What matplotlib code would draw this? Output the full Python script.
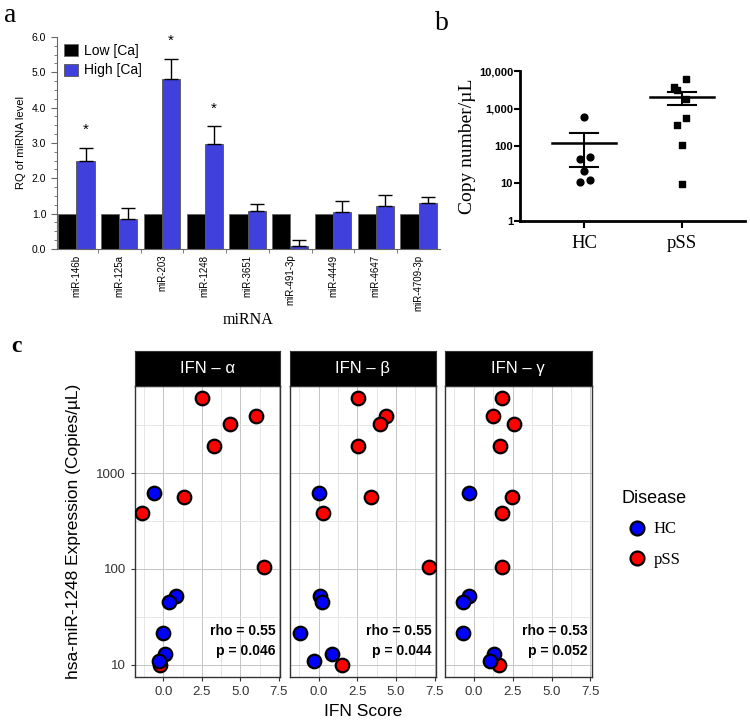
import numpy as np
import matplotlib
matplotlib.use("Agg")
from matplotlib import pyplot as plt
from matplotlib.ticker import FixedLocator, NullLocator, FuncFormatter
from matplotlib.lines import Line2D

SANS = "Liberation Sans"
SERIF = "Liberation Serif"
plt.rcParams['font.family'] = [SANS, 'DejaVu Sans']

# ---- panel a data ----
mirnas = ["miR-146b", "miR-125a", "miR-203", "miR-1248", "miR-3651",
          "miR-491-3p", "miR-4449", "miR-4647", "miR-4709-3p"]
low_ca = [1.0, 1.0, 1.0, 1.0, 1.0, 1.0, 1.0, 1.0, 1.0]
high_ca = [2.50, 0.85, 4.82, 2.98, 1.07, 0.09, 1.05, 1.21, 1.29]
high_ca_err = [0.37, 0.32, 0.56, 0.49, 0.20, 0.15, 0.32, 0.33, 0.19]
significant = [True, False, True, True, False, False, False, False, False]

# ---- panel b data ----
hc_copies = [600, 44, 50, 21, 10.7, 12.2]
hc_jitter = [0.0, -0.04, 0.06, 0.0, -0.04, 0.06]
pss_copies = [6000, 3800, 3100, 1830, 550, 370, 105, 9.7]
pss_jitter = [0.045, -0.08, -0.05, 0.045, 0.045, -0.05, 0.0, 0.0]

# ---- panel c data ----
hc_expr = [620, 52, 45, 21.5, 12.8, 11]
pss_expr = [6100, 3950, 3250, 1930, 570, 385, 105, 10]
ifn_names = ["IFN – α", "IFN – β", "IFN – γ"]
ifn_hc = [[-0.60, 0.82, 0.37, 0.00, 0.11, -0.32],
          [0.02, 0.07, 0.24, -1.19, 0.87, -0.30],
          [-0.33, -0.33, -0.70, -0.70, 1.28, 1.02]]
ifn_pss = [[2.52, 6.04, 4.35, 3.30, 1.36, -1.40, 6.53, -0.21],
           [2.58, 4.33, 4.00, 2.55, 3.42, 0.28, 7.16, 1.54],
           [1.84, 1.24, 2.57, 1.67, 2.46, 1.84, 1.84, 1.60]]
rho_text = ["rho = 0.55\np = 0.046", "rho = 0.55\np = 0.044", "rho = 0.53\np = 0.052"]

fig = plt.figure(figsize=(7.5, 7.21), dpi=100)

# ================= panel a =================
blue = "#4040dc"
ax = fig.add_axes([0.0756, 0.6547, 0.511, 0.294])
x = np.arange(len(mirnas))
w = 0.425
ax.bar(x - w / 2, low_ca, w, color="black", edgecolor="#666666", linewidth=0.6, label="Low [Ca]")
ax.bar(x + w / 2, high_ca, w, color=blue, edgecolor="#555555", linewidth=0.6, label="High [Ca]")
ax.errorbar(x + w / 2, high_ca, yerr=[np.zeros(len(high_ca)), high_ca_err], fmt="none",
            ecolor="black", elinewidth=1.0, capsize=5, capthick=1.0)
for i in range(len(mirnas)):
    if significant[i]:
        ax.text(x[i] + w / 2, high_ca[i] + high_ca_err[i] + 0.5, "*", ha="center", va="center", fontsize=11)
ax.set_xlim(-0.462, 8.50)
ax.set_ylim(0, 6.0)
ax.set_xticks(x)
ax.set_xticklabels(mirnas, rotation=90, fontsize=7)
ax.xaxis.set_minor_locator(FixedLocator(x[:-1] + 0.5))
ax.tick_params(axis="x", which="major", length=0, pad=4)
ax.tick_params(axis="x", which="minor", length=3, color="#666666")
ax.set_yticks(np.arange(0, 6.1, 1.0))
ax.yaxis.set_major_formatter(FuncFormatter(lambda v, p: "%.1f" % v))
ax.yaxis.set_minor_locator(FixedLocator(np.arange(0, 6.01, 0.25)))
ax.tick_params(axis="y", which="major", labelsize=7.5, length=4, color="#666666")
ax.tick_params(axis="y", which="minor", length=2, color="#666666")
for s in ["top", "right"]:
    ax.spines[s].set_visible(False)
for s in ["left", "bottom"]:
    ax.spines[s].set_color("#666666")
ax.set_ylabel("RQ of miRNA level", fontsize=8)
ax.set_xlabel("miRNA", fontsize=11.5, family=SERIF, labelpad=1)
ax.legend(loc="upper left", bbox_to_anchor=(0.0, 1.0), frameon=False, fontsize=10,
          handlelength=1.0, handleheight=1.0, handletextpad=0.5, labelspacing=0.4,
          borderaxespad=0.2, borderpad=0.3)
fig.text(0.005, 0.978, "a", family=SERIF, fontsize=20, va="center")

# ================= panel b =================
bx = fig.add_axes([0.6933, 0.6935, 0.30, 0.208])
bx.set_yscale("log")
bx.scatter(np.zeros(len(hc_copies)) + hc_jitter, hc_copies, marker="o", s=24, color="black", zorder=3)
bx.scatter(np.ones(len(pss_copies)) + pss_jitter, pss_copies, marker="s", s=22, color="black", zorder=3)
for pos, vals in [(0, hc_copies), (1, pss_copies)]:
    v = np.array(vals)
    m = v.mean()
    sem = v.std(ddof=1) / np.sqrt(len(v))
    bx.plot([pos - 0.33, pos + 0.33], [m, m], color="black", lw=1.8)
    bx.plot([pos - 0.14, pos + 0.14], [m + sem, m + sem], color="black", lw=1.5)
    bx.plot([pos - 0.14, pos + 0.14], [m - sem, m - sem], color="black", lw=1.5)
    bx.plot([pos, pos], [m - sem, m + sem], color="black", lw=1.5)
bx.set_xlim(-0.653, 1.643)
bx.set_ylim(1, 10000)
bx.set_yticks([1, 10, 100, 1000, 10000])
bx.yaxis.set_major_formatter(FuncFormatter(lambda v, p: "{:,}".format(int(round(v)))))
bx.yaxis.set_minor_locator(NullLocator())
for lab in bx.get_yticklabels():
    lab.set_fontweight("bold")
bx.tick_params(axis="y", labelsize=8, length=4, width=1.5, pad=1)
bx.set_xticks([0, 1])
bx.set_xticklabels(["HC", "pSS"], family=SERIF, fontsize=13.5)
bx.tick_params(axis="x", length=5, width=1.5, pad=5)
for s in ["top", "right"]:
    bx.spines[s].set_visible(False)
for s in ["left", "bottom"]:
    bx.spines[s].set_linewidth(2)
bx.set_ylabel("Copy number/µL", family=SERIF, fontsize=14, labelpad=2)
fig.text(0.58, 0.967, "b", family=SERIF, fontsize=20, va="center")

# ================= panel c =================
lefts = [0.18, 0.3867, 0.5933]
widths = [0.1933, 0.1943, 0.1956]
cb, ch = 0.0606, 0.404
strip_h = 0.0485
axes_c = []
for k in range(3):
    cx = fig.add_axes([lefts[k], cb, widths[k], ch])
    axes_c.append(cx)
    cx.set_yscale("log")
    cx.set_xlim(-1.85, 7.58)
    cx.set_ylim(7.38, 8170)
    cx.set_xticks([0.0, 2.5, 5.0, 7.5])
    cx.xaxis.set_major_formatter(FuncFormatter(lambda v, p: "%.1f" % v))
    cx.xaxis.set_minor_locator(FixedLocator([-1.25, 1.25, 3.75, 6.25]))
    cx.set_yticks([10, 100, 1000])
    cx.yaxis.set_minor_locator(FixedLocator([10 ** 1.5, 10 ** 2.5, 10 ** 3.5]))
    cx.yaxis.set_major_formatter(FuncFormatter(lambda v, p: "%d" % v))
    cx.grid(which="major", color="#c4c4c4", lw=0.7)
    cx.grid(which="minor", color="#e2e2e2", lw=0.6)
    cx.set_axisbelow(True)
    cx.tick_params(which="minor", length=0)
    cx.tick_params(which="major", length=3, color="#333333", labelsize=9.5, labelcolor="#333333")
    if k > 0:
        cx.tick_params(axis="y", labelleft=False, length=0)
    for s in cx.spines.values():
        s.set_color("#333333")
        s.set_linewidth(1.0)
    cx.scatter(ifn_pss[k], pss_expr, s=95, color="#ff0000", edgecolor="black", linewidth=1.6, zorder=3)
    cx.scatter(ifn_hc[k], hc_expr, s=95, color="#0000ff", edgecolor="black", linewidth=1.6, zorder=4)
    cx.text(0.97, 0.125, rho_text[k], transform=cx.transAxes, ha="right", va="center",
            fontsize=10, fontweight="bold", linespacing=1.55)
    sx = fig.add_axes([lefts[k], cb + ch, widths[k], strip_h])
    sx.set_facecolor("black")
    sx.set_xticks([])
    sx.set_yticks([])
    for s in sx.spines.values():
        s.set_color("#333333")
    sx.text(0.5, 0.5, ifn_names[k], color="white", ha="center", va="center", fontsize=12,
            transform=sx.transAxes)

axes_c[0].set_ylabel("hsa-miR-1248 Expression (Copies/µL)", fontsize=12.5, labelpad=11)
axes_c[1].set_xlabel("IFN Score", fontsize=12.5, labelpad=4)

handles = [Line2D([], [], marker="o", ls="", markersize=10, markerfacecolor="#0000ff",
                  markeredgecolor="black", markeredgewidth=1.6, label="HC"),
           Line2D([], [], marker="o", ls="", markersize=10, markerfacecolor="#ff0000",
                  markeredgecolor="black", markeredgewidth=1.6, label="pSS")]
leg = fig.legend(handles=handles, title="Disease", loc="upper left", bbox_to_anchor=(0.829, 0.320),
                 frameon=False, prop={"family": SERIF, "size": 12}, handletextpad=0.1,
                 labelspacing=0.85, handlelength=1.8, borderaxespad=0, borderpad=0)
leg.get_title().set_fontsize(13)
leg.get_title().set_family(SANS)
leg._legend_box.align = "left"
fig.text(0.015, 0.519, "c", family=SERIF, fontsize=17, fontweight="bold", va="center")

fig.savefig("out.png", dpi=100)
